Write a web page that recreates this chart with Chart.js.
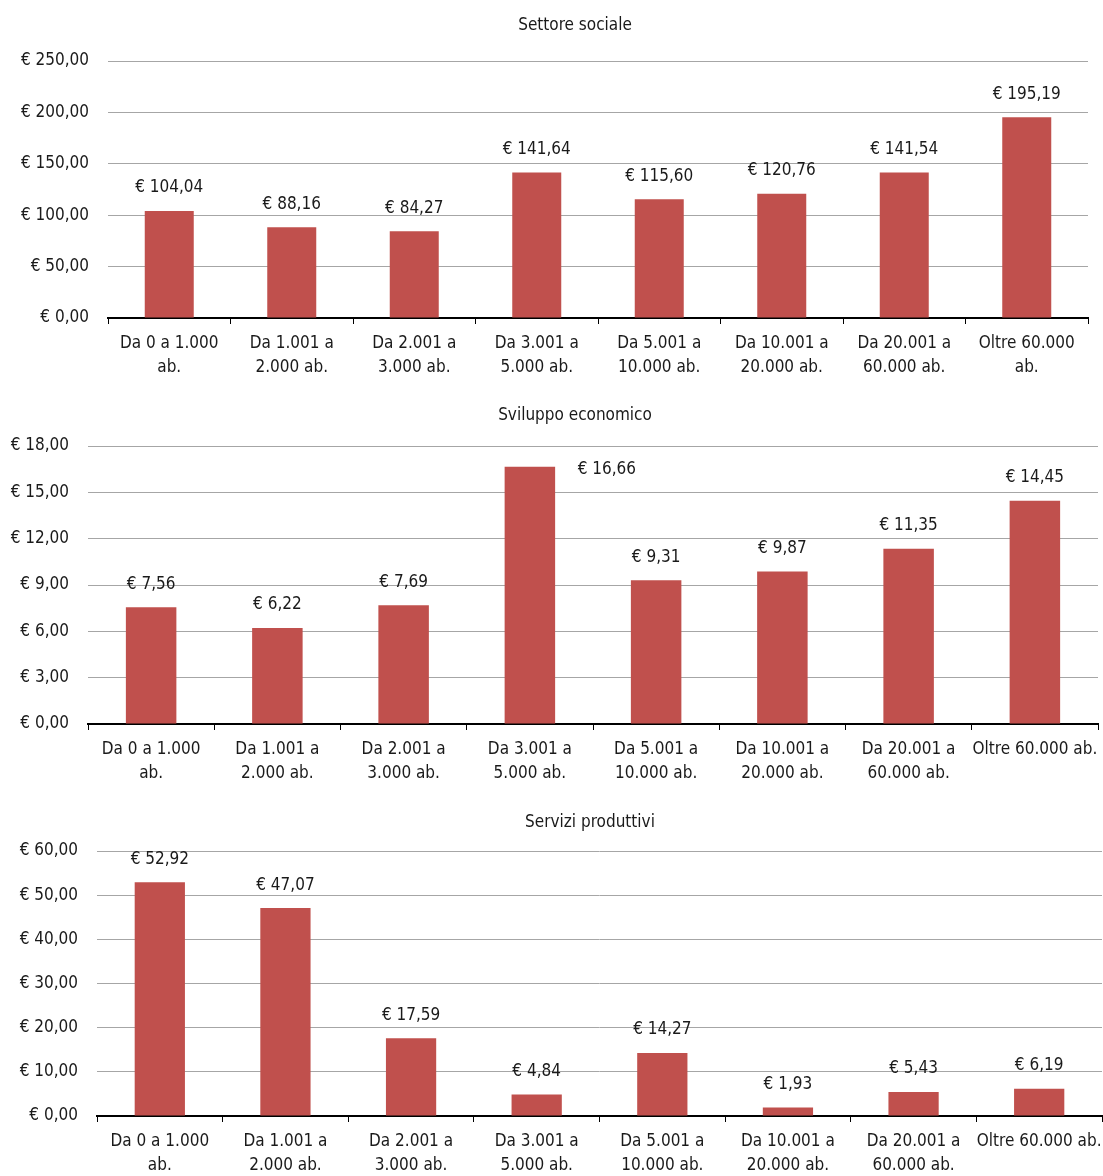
<!DOCTYPE html>
<html>
<head>
<meta charset="utf-8">
<script src="https://cdn.jsdelivr.net/npm/chart.js@4"></script>
<style>
  body { margin: 0; background: #fff; }
  .box { position: absolute; left: 0; width: 1103px; }
</style>
</head>
<body>
<div class="box" style="top:0;height:390px"><canvas id="chartSociale"></canvas></div>
<div class="box" style="top:395px;height:395px"><canvas id="chartSviluppo"></canvas></div>
<div class="box" style="top:800px;height:376px"><canvas id="chartServizi"></canvas></div>
<script>
// categorie (a capo come nel grafico originale)
const categorie1 = [
    ['Da 0 a 1.000', 'ab.'], ['Da 1.001 a', '2.000 ab.'], ['Da 2.001 a', '3.000 ab.'],
    ['Da 3.001 a', '5.000 ab.'], ['Da 5.001 a', '10.000 ab.'], ['Da 10.001 a', '20.000 ab.'],
    ['Da 20.001 a', '60.000 ab.'], ['Oltre 60.000', 'ab.']
];
const categorie2 = [
    ['Da 0 a 1.000', 'ab.'], ['Da 1.001 a', '2.000 ab.'], ['Da 2.001 a', '3.000 ab.'],
    ['Da 3.001 a', '5.000 ab.'], ['Da 5.001 a', '10.000 ab.'], ['Da 10.001 a', '20.000 ab.'],
    ['Da 20.001 a', '60.000 ab.'], ['Oltre 60.000 ab.']
];

const valoriSociale = [104.04, 88.16, 84.27, 141.64, 115.60, 120.76, 141.54, 195.19];
const valoriSviluppo = [7.56, 6.22, 7.69, 16.66, 9.31, 9.87, 11.35, 14.45];
const valoriServizi = [52.92, 47.07, 17.59, 4.84, 14.27, 1.93, 5.43, 6.19];

const tickSociale = { max: 250, step: 50 };
const tickSviluppo = { max: 18, step: 3 };
const tickServizi = { max: 60, step: 10 };

const FONT = "'Liberation Sans Narrow', 'Arial Narrow', 'DejaVu Sans Condensed', sans-serif";
const SIZE = 17;
const ROSSO = '#c0504d';

function euro(v) {
    return '€ ' + Number(v).toFixed(2).replace('.', ',');
}

// etichette sopra le barre + titolo
const etichettePlugin = {
    id: 'etichette',
    afterDatasetsDraw(chart, args, opts) {
        const ctx = chart.ctx;
        const meta = chart.getDatasetMeta(0);
        const dati = chart.data.datasets[0].data;
        ctx.save();
        ctx.font = SIZE + 'px ' + FONT;
        ctx.fillStyle = '#1a1a1a';
        ctx.textAlign = 'center';
        ctx.textBaseline = 'middle';
        meta.data.forEach(function (bar, i) {
            let dx = 0, dy = -23;
            if (opts.sposta && opts.sposta[i]) {
                dx = opts.sposta[i][0];
                dy = opts.sposta[i][1];
            }
            ctx.fillText(euro(dati[i]), bar.x + dx, bar.y + dy);
        });
        ctx.fillText(opts.titolo, opts.titoloX, opts.titoloY);
        ctx.restore();
    }
};

function creaGrafico(id, categorie, valori, tick, cfg) {
    return new Chart(document.getElementById(id), {
        type: 'bar',
        data: {
            labels: categorie,
            datasets: [{
                data: valori,
                backgroundColor: ROSSO,
                barPercentage: 0.4,
                categoryPercentage: 1
            }]
        },
        options: {
            responsive: true,
            maintainAspectRatio: false,
            animation: false,
            layout: { padding: { top: cfg.top, right: cfg.right, left: 0, bottom: 0 } },
            plugins: {
                legend: { display: false },
                tooltip: { enabled: false },
                etichette: {
                    titolo: cfg.titolo, titoloX: cfg.titoloX, titoloY: cfg.titoloY,
                    sposta: cfg.sposta
                }
            },
            scales: {
                x: {
                    afterFit: function (s) {
                        s.height = cfg.altezzaX;
                        s.paddingLeft = 0;
                        s.paddingRight = 0;
                    },
                    grid: {
                        offset: true,
                        drawOnChartArea: false,
                        drawTicks: true,
                        tickLength: 6,
                        color: '#000',
                        lineWidth: 1
                    },
                    border: { display: true, color: '#000', width: 2 },
                    ticks: {
                        color: '#1a1a1a',
                        padding: 7,
                        maxRotation: 0,
                        autoSkip: false,
                        font: { family: FONT, size: SIZE, lineHeight: 1.45 }
                    }
                },
                y: {
                    min: 0,
                    max: tick.max,
                    afterFit: function (s) { s.width = cfg.larghezzaY; },
                    grid: { color: '#a6a6a6', lineWidth: 1, drawTicks: false },
                    border: { display: false },
                    ticks: {
                        stepSize: tick.step,
                        padding: 19,
                        color: '#1a1a1a',
                        font: { family: FONT, size: SIZE },
                        callback: function (v) { return euro(v); }
                    }
                }
            }
        },
        plugins: [etichettePlugin]
    });
}

creaGrafico('chartSociale', categorie1, valoriSociale, tickSociale, {
    top: 61, right: 15, altezzaX: 72, larghezzaY: 108,
    titolo: 'Settore sociale', titoloX: 575, titoloY: 26
});
creaGrafico('chartSviluppo', categorie2, valoriSviluppo, tickSviluppo, {
    top: 51, right: 5, altezzaX: 66, larghezzaY: 88,
    titolo: 'Sviluppo economico', titoloX: 575, titoloY: 21,
    sposta: { 3: [77, 3] }
});
creaGrafico('chartServizi', categorie2, valoriServizi, tickServizi, {
    top: 51, right: 1, altezzaX: 60, larghezzaY: 97,
    titolo: 'Servizi produttivi', titoloX: 590, titoloY: 23
});
</script>
</body>
</html>
